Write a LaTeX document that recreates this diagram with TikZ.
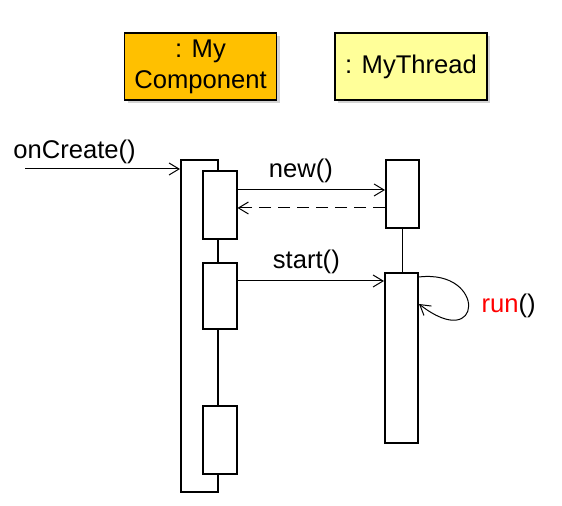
\documentclass[tikz,border=0pt]{standalone}
\usepackage{fontspec}
\setmainfont{Liberation Sans}
\usetikzlibrary{arrows.meta,shadows}
\definecolor{compfill}{HTML}{FFC000}
\definecolor{thrdfill}{HTML}{FFFF99}

\begin{document}
\begin{tikzpicture}[x=0.5pt,y=0.5pt,every node/.style={font=\fontsize{12.8}{15.5}\selectfont},
  head/.style={draw,line width=0.6pt,inner sep=0pt,minimum width=76pt,minimum height=33.5pt,align=center,
    drop shadow={shadow xshift=1.5pt,shadow yshift=-1.5pt,opacity=0.35}},
  bar/.style={draw,line width=1pt,fill=white,inner sep=0pt,minimum width=17pt},
  msg/.style={line width=0.5pt,-{Straight Barb[length=5pt,width=6pt]}},
  reply/.style={msg,dash pattern=on 6pt off 3.5pt}]
  \useasboundingbox (0,0) rectangle (562,506);
  \node[head,fill=compfill] (comp) at (200.5,439.5) {: My\\Component};
  \node[head,fill=thrdfill] (thrd) at (411,439.5) {: MyThread};
  % activation bars
  \node[bar,minimum width=18.5pt,minimum height=166pt] (act) at (199.5,180) {};
  \node[bar,minimum height=34pt] (b1) at (219.5,301) {};
  \node[bar,minimum height=33pt] (b2) at (219.5,210) {};
  \node[bar,minimum height=34pt] (b3) at (219.5,66) {};
  \node[bar,minimum width=16.5pt,minimum height=34pt] (t1) at (402.5,312) {};
  \draw[line width=0.5pt] (t1.south) -- (402.5,233);
  \node[bar,minimum width=16.5pt,minimum height=85pt] (t2) at (401.5,148) {};
  % messages
  \coordinate (oc) at (25,337);
  \coordinate (newy) at (0,316);
  \coordinate (rety) at (0,298);
  \coordinate (sty) at (0,225);
  \draw[msg] (oc) -- (oc -| act.west) node[pos=0.32,above=-1pt] {onCreate()};
  \draw[msg] (b1.east |- newy) -- (t1.west |- newy) node[pos=0.43,above=0pt] {new()};
  \draw[reply] (t1.west |- rety) -- (b1.east |- rety);
  \draw[msg] (b2.east |- sty) -- (t2.west |- sty) node[pos=0.47,above=0pt] {start()};
  \draw[msg] ([yshift=-2.5pt]t2.north east) .. controls +(68,8) and +(64,-50) .. ([yshift=-16pt]t2.north east)
    node[pos=0.5,right=3pt] {\textcolor{red}{run}()};
\end{tikzpicture}
\end{document}
